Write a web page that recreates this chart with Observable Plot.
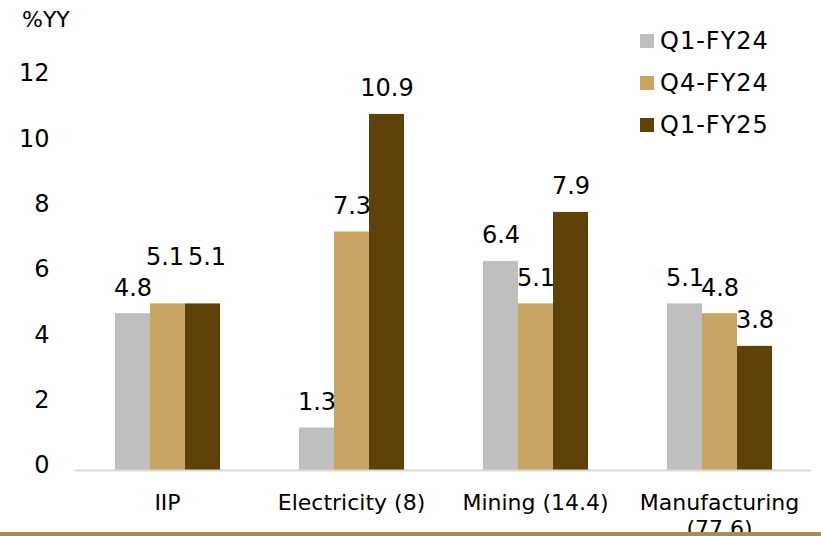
<!DOCTYPE html>
<html><head><meta charset="utf-8">
<script src="https://cdn.jsdelivr.net/npm/d3@7"></script>
<script src="https://cdn.jsdelivr.net/npm/@observablehq/plot@0.6"></script>
<style>
body{margin:0;background:#fff;font-family:"DejaVu Sans",sans-serif;}
#wrap{position:relative;width:821px;height:536px;overflow:hidden;background:#fff;}
#wrap svg{display:block;}
#unit{position:absolute;left:22px;top:9px;font-size:22px;line-height:22px;color:#000;}
#legend{position:absolute;left:640px;top:20px;}
.item{display:flex;align-items:center;height:42px;font-size:24px;letter-spacing:1px;color:#000;}
.sw{width:14px;height:14px;margin-right:6px;flex:none;}
#strip{position:absolute;left:0;top:532px;width:821px;height:4px;background:#AD8A4E;}
</style>
</head><body>
<div id="wrap"></div>
<script>
const categories = ["IIP", "Electricity (8)", "Mining (14.4)", "Manufacturing (77.6)"];
const seriesNames = ["Q1-FY24", "Q4-FY24", "Q1-FY25"];
const q1fy24 = [4.8, 1.3, 6.4, 5.1];
const q4fy24 = [5.1, 7.3, 5.1, 4.8];
const q1fy25 = [5.1, 10.9, 7.9, 3.8];
const yTicks = [0, 2, 4, 6, 8, 10, 12];
const colors = ["#BFBFBF", "#C8A562", "#5F4209"];
const unitLabel = "%YY";

const values = [q1fy24, q4fy24, q1fy25];
const data = categories.flatMap((c, i) => seriesNames.map((s, j) => ({category: c, series: s, value: values[j][i]})));
const raised = d => d.category === "IIP" && d.series !== "Q1-FY24";

const labelOpts = {fx: "category", x: "series", y: "value", text: d => d.value.toFixed(1),
  lineAnchor: "bottom", fontSize: 24, fill: "#000"};

const gapHalf = -39.3;

const chart = Plot.plot({
  width: 821, height: 536,
  marginLeft: 74, marginRight: 9, marginTop: 78, marginBottom: 66,
  style: {fontFamily: "DejaVu Sans", background: "transparent", color: "#000"},
  fx: {domain: categories, paddingInner: 0.425, paddingOuter: 0.2125, label: null},
  x: {domain: seriesNames, padding: 0, axis: null},
  y: {domain: [0, 12], axis: null},
  color: {domain: seriesNames, range: colors},
  marks: [
    Plot.barY(data, {fx: "category", x: "series", y: "value", fill: "series"}),
    Plot.ruleY([0], {stroke: "#D9D9D9", strokeWidth: 2, insetLeft: gapHalf, insetRight: gapHalf}),
    Plot.text(data.filter(d => !raised(d)), {...labelOpts, dy: -18}),
    Plot.text(data.filter(d => raised(d) && d.series === "Q4-FY24"), {...labelOpts, dy: -39, dx: -3}),
    Plot.text(data.filter(d => raised(d) && d.series === "Q1-FY25"), {...labelOpts, dy: -39, dx: 4}),
    Plot.axisY({ticks: yTicks, tickSize: 0, tickPadding: 65, fontSize: 24, label: null, dy: -5}),
    Plot.axisFx({anchor: "bottom", tickSize: 0, tickPadding: 22, fontSize: 22, lineHeight: 1.15, label: null,
      tickFormat: d => d.length > 16 ? d.replace(" (", "\n(") : d})
  ]
});

const wrap = document.getElementById("wrap");
wrap.appendChild(chart);
const unit = document.createElement("div");
unit.id = "unit"; unit.textContent = unitLabel;
wrap.appendChild(unit);
const legend = document.createElement("div");
legend.id = "legend";
seriesNames.forEach((s, i) => {
  const it = document.createElement("div"); it.className = "item";
  const sw = document.createElement("span"); sw.className = "sw"; sw.style.background = colors[i];
  const t = document.createElement("span"); t.textContent = s;
  it.appendChild(sw); it.appendChild(t); legend.appendChild(it);
});
wrap.appendChild(legend);
const strip = document.createElement("div"); strip.id = "strip"; wrap.appendChild(strip);
</script>
</body></html>
